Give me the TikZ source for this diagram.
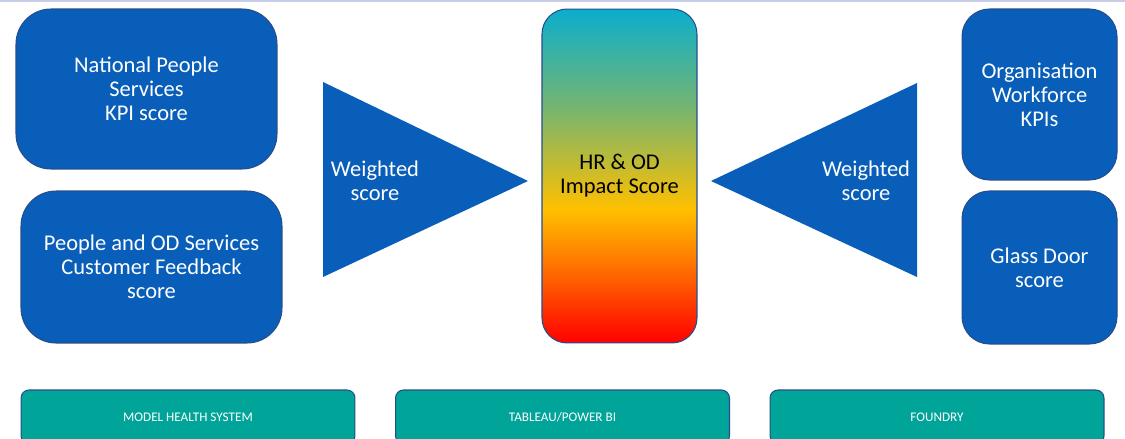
\documentclass[tikz,border=0pt]{standalone}
\usepackage{fontspec}
\setmainfont{Carlito}
\usetikzlibrary{positioning, calc}

\definecolor{nhsblue}{RGB}{8,94,184}
\definecolor{nhsedge}{RGB}{38,78,140}
\definecolor{barteal}{RGB}{0,164,153}
\definecolor{topline}{RGB}{200,206,232}
\definecolor{impcyan}{RGB}{10,174,205}
\definecolor{impgreen}{RGB}{120,181,110}
\definecolor{impyellow}{RGB}{255,192,0}
\definecolor{imporange}{RGB}{255,100,0}
\definecolor{impred}{RGB}{255,0,0}

% red at the bottom, cyan at the top
\pgfdeclareverticalshading{impact}{100bp}{color(0bp)=(impred); color(25bp)=(impred);
  color(35bp)=(imporange); color(45bp)=(impyellow); color(60bp)=(impgreen);
  color(75bp)=(impcyan); color(100bp)=(impcyan)}

\begin{document}
\begin{tikzpicture}[x=0.02cm, y=-0.02cm,
    kpibox/.style={draw=nhsedge, line width=0.6pt, fill=nhsblue, text=white,
      rounded corners=0.7cm, align=center, font=\fontsize{12.8}{13.6}\selectfont},
    smallbox/.style={kpibox, rounded corners=0.55cm, minimum width=3.1cm},
    weightlabel/.style={text=white, align=center, font=\fontsize{12.8}{13.6}\selectfont},
    toolbar/.style={draw=nhsedge, line width=0.6pt, fill=barteal, text=white,
      rounded corners=0.16cm, minimum width=6.68cm, minimum height=1.08cm,
      font=\fontsize{7.5}{9}\selectfont}]
      \clip (0,0) rectangle (1125,439);
      \fill[white] (0,0) rectangle (1125,439);
      \fill[topline] (0,0) rectangle (1125,2.5);

      % Left input scores
      \node[kpibox, minimum width=5.22cm, minimum height=3.2cm] (npskpi) at (146.5,89)
          {National People\\Services\\KPI score};
      \node[kpibox, minimum width=5.22cm, minimum height=3.04cm] (odfeedback) at (151.5,267)
          {People and OD Services\\Customer Feedback\\score};

      % Right input scores
      \node[smallbox, minimum height=3.42cm] (orgkpi) at (1039.5,94.5)
          {Organisation\\Workforce\\KPIs};
      \node[smallbox, minimum height=3.06cm] (glassdoor) at (1039.5,267.5)
          {Glass Door\\score};

      % Weighting triangles
      \fill[nhsblue] (323,82) -- (323,277) -- (528,181) -- cycle;
      \node[weightlabel] (leftweight) at (375,181) {Weighted\\score};
      \fill[nhsblue] (917,83) -- (917,277) -- (711,181) -- cycle;
      \node[weightlabel] (rightweight) at (866,181) {Weighted\\score};

      % Impact score bar
      \node[draw=nhsedge, line width=0.6pt, shade, shading=impact, rounded corners=0.5cm,
          minimum width=3.1cm, minimum height=6.68cm, align=center,
          font=\fontsize{12.8}{13.6}\selectfont] (impact) at (619.5,176)
          {HR \& OD\\Impact Score};

      % Platforms along the bottom
      \node[toolbar] (mhs) at (188,417) {MODEL HEALTH SYSTEM};
      \node[toolbar] (tableau) at (562.5,417) {TABLEAU/POWER BI};
      \node[toolbar] (foundry) at (937,417) {FOUNDRY};
    \end{tikzpicture}
\end{document}
